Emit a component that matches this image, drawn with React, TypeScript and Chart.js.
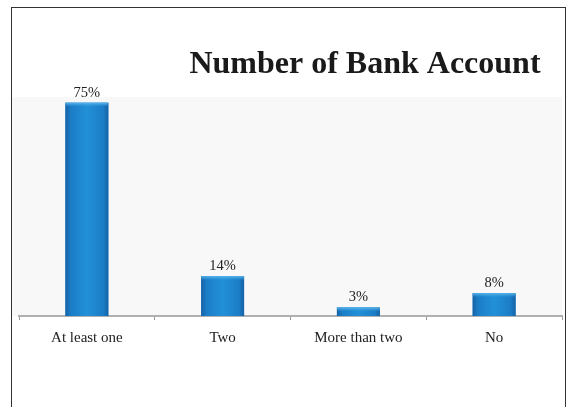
import React, { useEffect, useRef } from "react";
import { Chart, registerables } from "chart.js";

Chart.register(...registerables);

const categories: string[] = ["At least one", "Two", "More than two", "No"];
const values: number[] = [75, 14, 3, 8];
const valueLabels: string[] = ["75%", "14%", "3%", "8%"];
const titleText = "Number of Bank Account";

const SERIF = "'Liberation Serif', 'Times New Roman', serif";

const decorPlugin = {
  id: "decor",
  beforeDraw(chart: any) {
    const { ctx, chartArea } = chart;
    ctx.save();
    ctx.fillStyle = "#f8f8f8";
    ctx.fillRect(0, chartArea.top, chartArea.right, chartArea.bottom - chartArea.top);
    ctx.restore();
  },
  afterDatasetsDraw(chart: any) {
    const { ctx } = chart;
    const meta = chart.getDatasetMeta(0);
    ctx.save();
    meta.data.forEach((bar: any, i: number) => {
      const left = bar.x - bar.width / 2;
      const right = bar.x + bar.width / 2;
      const top = bar.y;
      const bottom = bar.base;
      const g = ctx.createLinearGradient(left, 0, right, 0);
      g.addColorStop(0, "#1662a6");
      g.addColorStop(0.12, "#1b7dc6");
      g.addColorStop(0.5, "#2290d8");
      g.addColorStop(0.88, "#1b7dc6");
      g.addColorStop(1, "#1662a6");
      ctx.fillStyle = g;
      ctx.fillRect(left, top, right - left, bottom - top);
      const h = Math.min(4, bottom - top);
      const g2 = ctx.createLinearGradient(0, top, 0, top + h);
      g2.addColorStop(0, "#5cb8ee");
      g2.addColorStop(1, "rgba(60,160,225,0)");
      ctx.fillStyle = g2;
      ctx.fillRect(left, top, right - left, h);
      ctx.fillStyle = "#222";
      ctx.font = `14.5px ${SERIF}`;
      ctx.textAlign = "center";
      ctx.textBaseline = "alphabetic";
      ctx.fillText(valueLabels[i], bar.x, top - 6);
    });
    ctx.restore();
  },
  afterDraw(chart: any) {
    const { ctx } = chart;
    ctx.save();
    ctx.fillStyle = "#1a1a1a";
    ctx.font = `bold 32px ${SERIF}`;
    ctx.textAlign = "center";
    ctx.textBaseline = "alphabetic";
    ctx.fillText(titleText, 353, 65);
    ctx.restore();
  },
};

export default function App() {
  const ref = useRef<HTMLCanvasElement | null>(null);
  useEffect(() => {
    if (!ref.current) return;
    const chart = new Chart(ref.current, {
      type: "bar",
      data: {
        labels: categories,
        datasets: [
          {
            data: values,
            backgroundColor: "#1f87d0",
            borderWidth: 0,
            categoryPercentage: 0.62,
            barPercentage: 0.51,
          },
        ],
      },
      options: {
        responsive: false,
        animation: false,
        layout: { padding: { left: 7, right: 3, top: 89, bottom: 51 } },
        plugins: {
          legend: { display: false },
          title: { display: false },
          tooltip: { enabled: false },
        },
        scales: {
          x: {
            grid: {
              display: true,
              drawOnChartArea: false,
              drawTicks: true,
              tickLength: 4,
              color: "#999",
              offset: true,
            },
            border: { display: true, color: "#b0b0b0", width: 2 },
            ticks: {
              color: "#222",
              font: { family: SERIF, size: 15 },
              padding: 9,
            },
          },
          y: {
            display: false,
            min: 0,
            max: 77,
          },
        },
      },
      plugins: [decorPlugin],
    });
    return () => chart.destroy();
  }, []);
  return (
    <div
      style={{
        position: "fixed",
        left: 11,
        top: 7,
        width: 553,
        height: 420,
        borderTop: "1px solid #333",
        borderLeft: "1px solid #333",
        borderRight: "1px solid #333",
        background: "#fff",
      }}
    >
      <canvas ref={ref} width={553} height={399} style={{ display: "block" }} />
    </div>
  );
}
